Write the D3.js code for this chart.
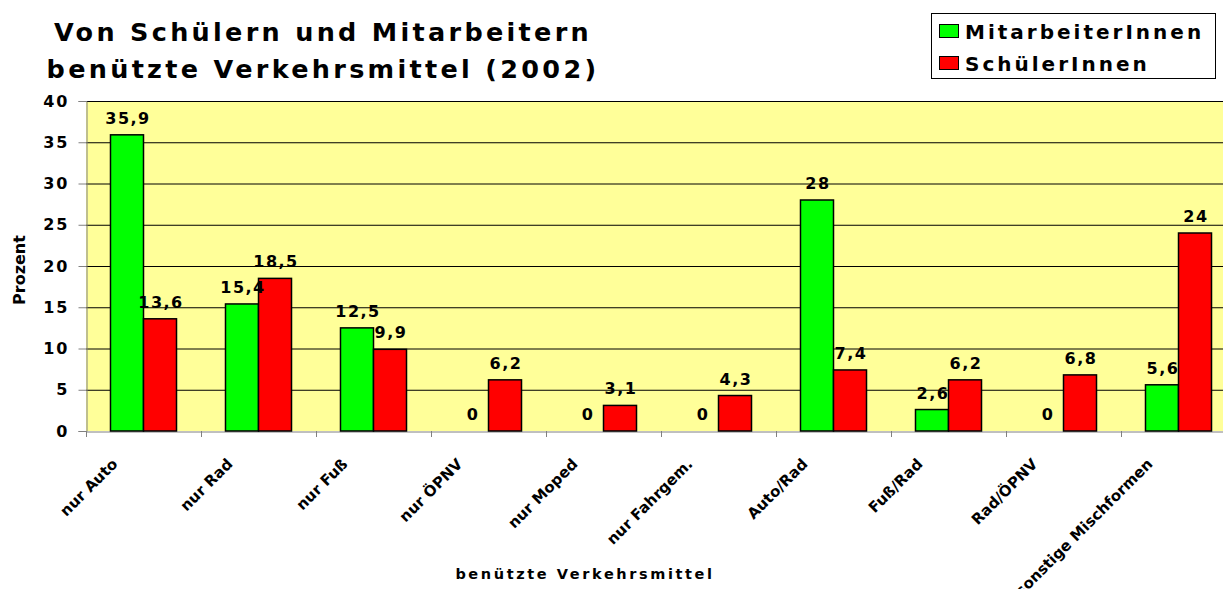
<!DOCTYPE html>
<html>
<head>
<meta charset="utf-8">
<script src="https://cdn.jsdelivr.net/npm/d3@7"></script>
<style>
  body { margin: 0; background: #fff; }
  text { font-family: 'DejaVu Sans', Verdana, sans-serif; font-weight: bold; }
</style>
</head>
<body>
<div id="chart"></div>
<script>
// chart data
var categories = ['nur Auto', 'nur Rad', 'nur Fuß', 'nur ÖPNV', 'nur Moped', 'nur Fahrgem.',
  'Auto/Rad', 'Fuß/Rad', 'Rad/ÖPNV', 'sonstige Mischformen'];
var seriesNames = ['MitarbeiterInnen', 'SchülerInnen'];
var mitarbeiter = [35.9, 15.4, 12.5, 0, 0, 0, 28, 2.6, 0, 5.6];
var schueler = [13.6, 18.5, 9.9, 6.2, 3.1, 4.3, 7.4, 6.2, 6.8, 24];
var yTicks = [0, 5, 10, 15, 20, 25, 30, 35, 40];
var colors = ['#00ff00', '#ff0000'];

var W = 1223, H = 589;
var plot = {left: 86, right: 1236, top: 101, bottom: 431};

var svg = d3.select('#chart').append('svg')
    .attr('width', W)
    .attr('height', H);

// scales
var x = d3.scaleBand().domain(categories).range([plot.left, plot.right]).padding(0);
var xs = d3.scaleBand().domain(seriesNames).range([0, x.bandwidth()]).paddingInner(0).paddingOuter(0.742);
var y = d3.scaleLinear().domain([0, 40]).range([plot.bottom, plot.top]);

// plot background
svg.append('rect')
    .attr('x', plot.left).attr('y', plot.top)
    .attr('width', plot.right - plot.left).attr('height', plot.bottom - plot.top)
    .attr('fill', '#ffff99');

// gridlines
svg.selectAll('line.grid')
    .data(yTicks.filter(function(d) { return d > 0; }))
  .enter().append('line')
    .attr('class', 'grid')
    .attr('x1', plot.left).attr('x2', plot.right)
    .attr('y1', function(d) { return y(d) + 0.5; })
    .attr('y2', function(d) { return y(d) + 0.5; })
    .attr('stroke', '#000')
    .attr('stroke-width', 1);

// y axis
var yAxis = d3.axisLeft(y).tickValues(yTicks).tickSize(8).tickPadding(9);
var yg = svg.append('g')
    .attr('transform', 'translate(' + (plot.left + 0.5) + ',0)')
    .call(yAxis);
yg.select('.domain').attr('stroke', '#808080');
yg.selectAll('.tick line').attr('stroke', '#808080');
yg.selectAll('.tick text')
    .attr('font-size', '16px')
    .attr('font-family', "'DejaVu Sans', Verdana, sans-serif")
    .attr('font-weight', 'bold')
    .attr('letter-spacing', '2px')
    .attr('fill', '#000');

// x axis
var xAxis = d3.axisBottom(x).tickSize(0).tickFormat('');
var xg = svg.append('g')
    .attr('transform', 'translate(0,' + (plot.bottom + 0.5) + ')')
    .call(xAxis);
xg.select('.domain').attr('stroke', '#808080');
// category separator ticks
svg.selectAll('line.xtick')
    .data(categories)
  .enter().append('line')
    .attr('class', 'xtick')
    .attr('x1', function(d) { return x(d) + 0.5; })
    .attr('x2', function(d) { return x(d) + 0.5; })
    .attr('y1', plot.bottom)
    .attr('y2', plot.bottom + 6)
    .attr('stroke', '#808080');

// category labels
svg.selectAll('text.cat')
    .data(categories)
  .enter().append('text')
    .attr('class', 'cat')
    .attr('text-anchor', 'end')
    .attr('font-size', '15px')
    .attr('transform', function(d) {
      var cx = x(d) + x.bandwidth() / 2 - 25;
      return 'translate(' + cx + ',' + (plot.bottom + 34) + ') rotate(-45)';
    })
    .text(function(d) { return d; });

// bars
var data = [];
categories.forEach(function(c, i) {
  data.push({cat: c, series: seriesNames[0], value: mitarbeiter[i], color: colors[0]});
  data.push({cat: c, series: seriesNames[1], value: schueler[i], color: colors[1]});
});

svg.selectAll('rect.bar')
    .data(data.filter(function(d) { return d.value > 0; }))
  .enter().append('rect')
    .attr('class', 'bar')
    .attr('x', function(d) { return x(d.cat) + xs(d.series); })
    .attr('y', function(d) { return y(d.value); })
    .attr('width', xs.bandwidth())
    .attr('height', function(d) { return y(0) - y(d.value); })
    .attr('fill', function(d) { return d.color; })
    .attr('stroke', '#000')
    .attr('stroke-width', 1.5);

// value labels
svg.selectAll('text.value')
    .data(data)
  .enter().append('text')
    .attr('class', 'value')
    .attr('x', function(d) { return x(d.cat) + xs(d.series) + xs.bandwidth() / 2 + 1; })
    .attr('y', function(d) { return y(d.value) - 11; })
    .attr('text-anchor', 'middle')
    .attr('font-size', '16px')
    .attr('letter-spacing', '1.5px')
    .text(function(d) { return String(d.value).replace('.', ','); });

// y axis title
svg.append('text')
    .attr('transform', 'translate(25,270) rotate(-90)')
    .attr('text-anchor', 'middle')
    .attr('font-size', '16px')
    .text('Prozent');

// x axis title
svg.append('text')
    .attr('x', 585)
    .attr('y', 579)
    .attr('text-anchor', 'middle')
    .attr('font-size', '14.5px')
    .attr('letter-spacing', '2.6px')
    .text('benützte Verkehrsmittel');

// title
var title = svg.append('text')
    .attr('text-anchor', 'middle')
    .attr('font-size', '25.5px')
    .attr('letter-spacing', '3.3px');
title.append('tspan').attr('x', 323).attr('y', 41).text('Von Schülern und Mitarbeitern');
title.append('tspan').attr('x', 323).attr('y', 78).text('benützte Verkehrsmittel (2002)');

// legend
var legend = svg.append('g');
legend.append('rect')
    .attr('x', 931.5).attr('y', 13.5)
    .attr('width', 284).attr('height', 65)
    .attr('fill', '#fff')
    .attr('stroke', '#000');
seriesNames.forEach(function(s, i) {
  var ly = 24 + i * 32;
  legend.append('rect')
      .attr('x', 939.5).attr('y', ly + 0.5)
      .attr('width', 19).attr('height', 13)
      .attr('fill', colors[i])
      .attr('stroke', '#000');
  legend.append('text')
      .attr('x', 965).attr('y', ly + 15)
      .attr('font-size', '20px')
      .attr('letter-spacing', '3px')
      .text(s);
});
</script>
</body>
</html>
